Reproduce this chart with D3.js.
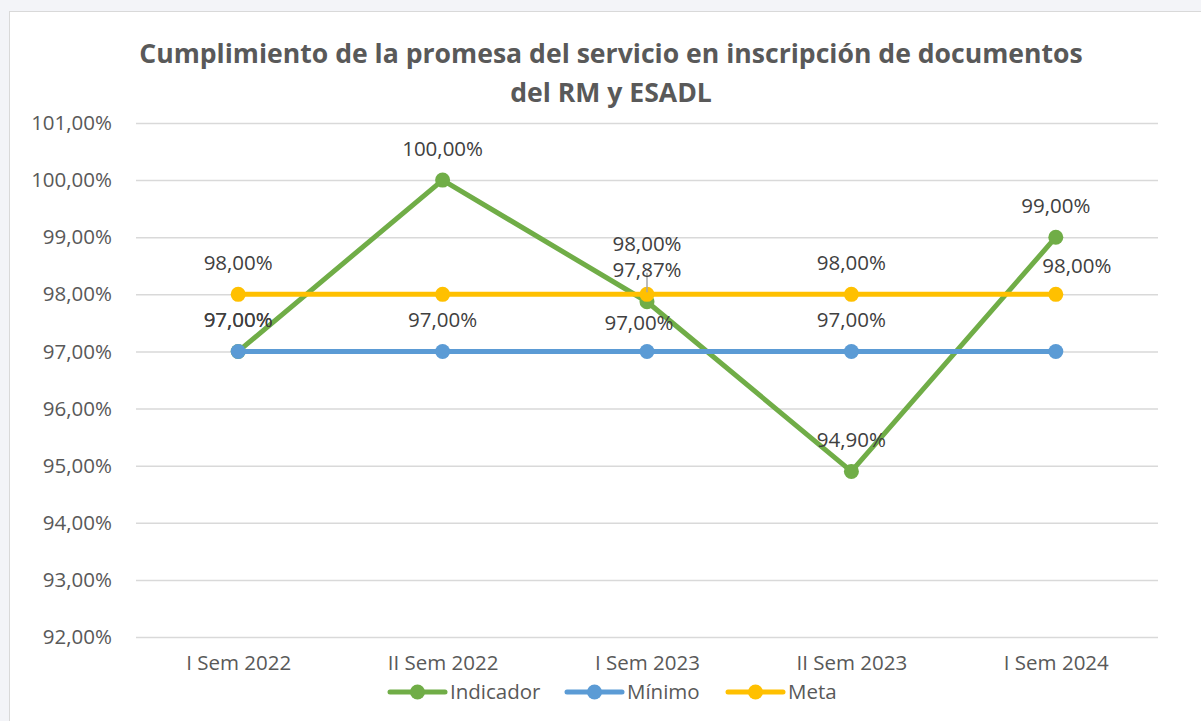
<html>
<head>
<meta charset="utf-8">
<title>Cumplimiento de la promesa del servicio</title>
<script src="https://d3js.org/d3.v7.min.js"></script>
<style>
    body { margin: 0px; background: #f3f4f8; }
    text { font-family: "Open Sans", sans-serif; }
    .tick-label { fill: #595959; font-size: 20.5px; }
    .data-label { fill: #404040; font-size: 20.5px; }
    .title { fill: #595959; font-size: 26.6px; font-weight: bold; }
</style>
</head>
<body>
<script>
// data
var categories = ["I Sem 2022", "II Sem 2022", "I Sem 2023", "II Sem 2023", "I Sem 2024"];
var indicador = [97.00, 100.00, 97.87, 94.90, 99.00];
var minimo = [97.00, 97.00, 97.00, 97.00, 97.00];
var meta = [98.00, 98.00, 98.00, 98.00, 98.00];
var yTicks = [92, 93, 94, 95, 96, 97, 98, 99, 100, 101];
var titleLines = ["Cumplimiento de la promesa del servicio en inscripción de documentos", "del RM y ESADL"];

var series = [
    {name: "Indicador", values: indicador, color: "#70AD47"},
    {name: "Mínimo", values: minimo, color: "#5B9BD5"},
    {name: "Meta", values: meta, color: "#FFC000"}
];

// labels Excel moved to avoid overlap, or dropped
var labelNudge = {
    "Indicador-2": {dx: 0, dy: -1, leader: true},
    "Mínimo-2": {dx: -8, dy: 3},
    "Mínimo-4": {hide: true},
    "Meta-1": {hide: true},
    "Meta-2": {dx: 0, dy: -19},
    "Meta-4": {dx: 21, dy: 3}
};

var width = 1201, height = 721;
var plot = {left: 136, right: 1158, top: 123, bottom: 637};

var fmt = v => d3.format(".2f")(v).replace(".", ",") + "%";

var svg = d3.select("body").append("svg")
    .attr("width", width)
    .attr("height", height);

// chart area
svg.append("rect")
    .attr("x", 9.5).attr("y", 11.5)
    .attr("width", 1250).attr("height", 800)
    .attr("fill", "#ffffff")
    .attr("stroke", "#d9d9d9")
    .attr("stroke-width", 1);

var x = d3.scalePoint()
    .domain(categories)
    .range([plot.left, plot.right])
    .padding(0.5);

var y = d3.scaleLinear()
    .domain([92, 101])
    .range([plot.bottom, plot.top]);

// gridlines + y labels
var yAxis = svg.append("g")
    .attr("transform", "translate(" + plot.left + ",0)")
    .call(d3.axisLeft(y).tickValues(yTicks).tickSize(-(plot.right - plot.left)).tickPadding(24).tickFormat(fmt));
yAxis.select(".domain").remove();
yAxis.selectAll(".tick line").attr("stroke", "#d9d9d9").attr("stroke-width", 1.5);
yAxis.selectAll(".tick text").attr("class", "tick-label").attr("fill", null);

// x labels
var xAxis = svg.append("g")
    .attr("transform", "translate(0," + plot.bottom + ")")
    .call(d3.axisBottom(x).tickSize(0).tickPadding(26));
xAxis.select(".domain").remove();
xAxis.selectAll(".tick text").attr("class", "tick-label").attr("fill", null).attr("dy", "0.35em");

// title
svg.append("text")
    .attr("class", "title")
    .attr("text-anchor", "middle")
    .selectAll("tspan")
    .data(titleLines)
    .enter()
    .append("tspan")
        .attr("x", 611)
        .attr("y", (d, i) => 63 + i * 38.7)
        .text(d => d);

var line = d3.line()
    .x((d, i) => x(categories[i]))
    .y(d => y(d));

// series lines and markers
series.forEach(function(s) {
    var g = svg.append("g");
    g.append("path")
        .datum(s.values)
        .attr("d", line)
        .attr("fill", "none")
        .attr("stroke", s.color)
        .attr("stroke-width", 5)
        .attr("stroke-linejoin", "round")
        .attr("stroke-linecap", "round");
    g.selectAll("circle")
        .data(s.values)
        .enter()
        .append("circle")
            .attr("cx", (d, i) => x(categories[i]))
            .attr("cy", d => y(d))
            .attr("r", 7.5)
            .attr("fill", s.color);
});

// data labels
series.forEach(function(s) {
    s.values.forEach(function(v, i) {
        var n = labelNudge[s.name + "-" + i] || {dx: 0, dy: 0};
        if (n.hide) return;
        var px = x(categories[i]) + n.dx;
        var py = y(v) - 24 + n.dy;
        if (n.leader) {
            svg.append("line")
                .attr("x1", x(categories[i])).attr("y1", py - 4)
                .attr("x2", x(categories[i])).attr("y2", y(meta[i]) - 2)
                .attr("stroke", "#a6a6a6")
                .attr("stroke-width", 1.5);
        }
        svg.append("text")
            .attr("class", "data-label")
            .attr("x", px)
            .attr("y", py)
            .attr("text-anchor", "middle")
            .text(fmt(v));
    });
});

// legend
var legendItems = [
    {x: 390, textX: 450},
    {x: 567, textX: 627},
    {x: 728, textX: 788}
];
var legend = svg.append("g").attr("transform", "translate(0,692)");
series.forEach(function(s, i) {
    var lx = legendItems[i].x;
    legend.append("line")
        .attr("x1", lx).attr("x2", lx + 55)
        .attr("y1", 0).attr("y2", 0)
        .attr("stroke", s.color)
        .attr("stroke-width", 5)
        .attr("stroke-linecap", "round");
    legend.append("circle")
        .attr("cx", lx + 27.5).attr("cy", 0)
        .attr("r", 7.5)
        .attr("fill", s.color);
    legend.append("text")
        .attr("class", "tick-label")
        .attr("x", legendItems[i].textX)
        .attr("y", 0)
        .attr("dy", "0.35em")
        .text(s.name);
});
</script>
</body>
</html>
